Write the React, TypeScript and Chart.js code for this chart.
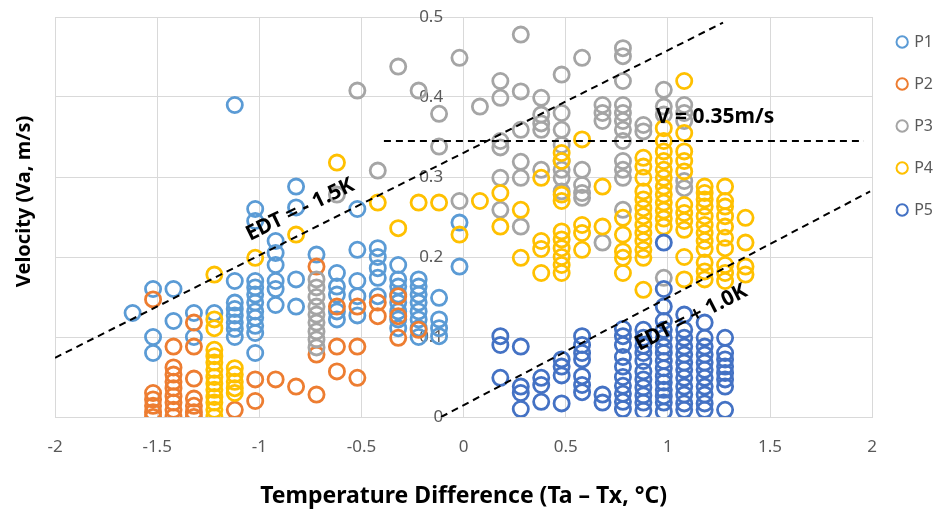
import React, { useEffect, useRef } from "react";
import { Chart, registerables } from "chart.js";

Chart.register(...registerables);

type Col = [number, number[]];

const seriesNames = ["P1", "P2", "P3", "P4", "P5"];
const seriesColors = ["#5B9BD5", "#ED7D31", "#A5A5A5", "#FFC000", "#4472C4"];

// Each entry: [temperature difference, velocities measured at that difference]
const p1Columns: Col[] = [
  [-1.62, [0.13]],
  [-1.52, [0.16, 0.1, 0.08]],
  [-1.42, [0.16, 0.12]],
  [-1.32, [0.13, 0.1]],
  [-1.22, [0.13]],
  [-1.12, [0.39, 0.17, 0.143, 0.135, 0.127, 0.118, 0.11, 0.1]],
  [-1.02, [0.26, 0.245, 0.17, 0.162, 0.153, 0.143, 0.132, 0.124, 0.114, 0.105, 0.08]],
  [-0.92, [0.22, 0.205, 0.19, 0.17, 0.16, 0.14]],
  [-0.82, [0.288, 0.262, 0.172, 0.138]],
  [-0.72, [0.203]],
  [-0.62, [0.18, 0.163, 0.153, 0.132, 0.122]],
  [-0.52, [0.26, 0.209, 0.17, 0.151, 0.127]],
  [-0.42, [0.211, 0.2, 0.186, 0.174, 0.151]],
  [-0.32, [0.19, 0.172, 0.163, 0.153, 0.143, 0.132, 0.122, 0.111]],
  [-0.22, [0.172, 0.163, 0.153, 0.143, 0.132, 0.122, 0.111, 0.1]],
  [-0.12, [0.149, 0.122, 0.111, 0.101]],
  [-0.02, [0.243, 0.188]],
];

const p2Columns: Col[] = [
  [-1.52, [0.147, 0.03, 0.022, 0.014, 0.006, 0.0]],
  [-1.42, [0.088, 0.062, 0.053, 0.044, 0.036, 0.026, 0.018, 0.009, 0.0]],
  [-1.32, [0.118, 0.088, 0.048, 0.023, 0.014, 0.006, 0.0]],
  [-1.12, [0.009]],
  [-1.02, [0.047, 0.02]],
  [-0.92, [0.047]],
  [-0.82, [0.038]],
  [-0.72, [0.188, 0.078, 0.028]],
  [-0.62, [0.138, 0.088, 0.057]],
  [-0.52, [0.138, 0.088, 0.049]],
  [-0.42, [0.143, 0.126]],
  [-0.32, [0.151, 0.126, 0.099]],
  [-0.22, [0.109]],
];

const p3Columns: Col[] = [
  [-0.72, [0.172, 0.162, 0.15, 0.138, 0.128, 0.118, 0.107, 0.097, 0.087]],
  [-0.62, [0.278]],
  [-0.52, [0.408]],
  [-0.42, [0.308]],
  [-0.32, [0.438]],
  [-0.22, [0.408]],
  [-0.12, [0.379, 0.338]],
  [-0.02, [0.449, 0.27]],
  [0.08, [0.388]],
  [0.18, [0.42, 0.399, 0.345, 0.337, 0.299, 0.259]],
  [0.28, [0.478, 0.407, 0.359, 0.319, 0.299, 0.238]],
  [0.38, [0.399, 0.378, 0.367, 0.359, 0.309]],
  [0.48, [0.428, 0.38, 0.359, 0.34, 0.32, 0.309, 0.299, 0.282]],
  [0.58, [0.449, 0.309, 0.29, 0.28, 0.274]],
  [0.68, [0.39, 0.38, 0.37, 0.218]],
  [0.78, [0.461, 0.451, 0.42, 0.39, 0.38, 0.37, 0.359, 0.345, 0.32, 0.309, 0.299, 0.259]],
  [0.88, [0.365, 0.357]],
  [0.98, [0.409, 0.388, 0.378, 0.174]],
  [1.08, [0.39, 0.38, 0.37, 0.295, 0.286]],
];

const p4Columns: Col[] = [
  [-1.22, [0.178, 0.122, 0.111, 0.084, 0.076, 0.068, 0.059, 0.05, 0.042, 0.034, 0.025, 0.018, 0.009, 0.0]],
  [-1.12, [0.061, 0.053, 0.044, 0.036, 0.03]],
  [-1.02, [0.199]],
  [-0.82, [0.228]],
  [-0.62, [0.318]],
  [-0.42, [0.268]],
  [-0.32, [0.236]],
  [-0.22, [0.268]],
  [-0.12, [0.268]],
  [-0.02, [0.228]],
  [0.08, [0.27]],
  [0.18, [0.28, 0.238]],
  [0.28, [0.259, 0.199]],
  [0.38, [0.299, 0.22, 0.21, 0.18]],
  [0.48, [0.33, 0.32, 0.278, 0.27, 0.232, 0.222, 0.211, 0.2, 0.19, 0.18]],
  [0.58, [0.347, 0.24, 0.23, 0.209]],
  [0.68, [0.288, 0.238]],
  [0.78, [0.249, 0.228, 0.207, 0.199, 0.18]],
  [0.88, [0.324, 0.313, 0.299, 0.282, 0.272, 0.261, 0.251, 0.24, 0.23, 0.22, 0.209, 0.199, 0.159]],
  [0.98, [0.361, 0.345, 0.332, 0.32, 0.309, 0.299, 0.288, 0.278, 0.268, 0.258, 0.248, 0.238]],
  [1.08, [0.42, 0.355, 0.332, 0.32, 0.307, 0.265, 0.255, 0.245, 0.234, 0.2, 0.172]],
  [1.18, [0.288, 0.28, 0.272, 0.263, 0.251, 0.24, 0.23, 0.22, 0.21, 0.193, 0.182, 0.172]],
  [1.28, [0.288, 0.27, 0.263, 0.251, 0.238, 0.224, 0.211, 0.19, 0.18, 0.17]],
  [1.38, [0.249, 0.218, 0.188, 0.178]],
];

const p5Columns: Col[] = [
  [0.18, [0.101, 0.09, 0.049]],
  [0.28, [0.088, 0.038, 0.03, 0.01]],
  [0.38, [0.049, 0.04, 0.019]],
  [0.48, [0.072, 0.063, 0.052, 0.017]],
  [0.58, [0.101, 0.09, 0.08, 0.072, 0.051, 0.04, 0.031]],
  [0.68, [0.028, 0.018]],
  [0.78, [0.11, 0.101, 0.09, 0.075, 0.063, 0.05, 0.039, 0.029, 0.019, 0.01]],
  [0.88, [0.109, 0.099, 0.089, 0.08, 0.07, 0.057, 0.047, 0.037, 0.027, 0.018, 0.008]],
  [0.98, [0.218, 0.16, 0.138, 0.12, 0.109, 0.099, 0.088, 0.08, 0.07, 0.061, 0.051, 0.043, 0.034, 0.026, 0.018, 0.007]],
  [1.08, [0.128, 0.109, 0.099, 0.088, 0.078, 0.068, 0.059, 0.049, 0.038, 0.028, 0.017, 0.009]],
  [1.18, [0.118, 0.099, 0.088, 0.078, 0.068, 0.059, 0.049, 0.038, 0.028, 0.017, 0.009]],
  [1.28, [0.099, 0.08, 0.072, 0.063, 0.055, 0.047, 0.038, 0.009]],
];

const seriesColumns = [p1Columns, p2Columns, p3Columns, p4Columns, p5Columns];

// Reference lines (end points in data units)
const edtMinusLine: [number, number][] = [[-2, 0.074], [1.27, 0.493]];
const edtPlusLine: [number, number][] = [[-0.11, 0.0], [1.99, 0.282]];
const velocityLine: [number, number][] = [[-0.39, 0.345], [1.96, 0.345]];

const annotationTexts = ["EDT = - 1.5K", "V = 0.35m/s", "EDT = + 1.0K"];
const annotationX = [-0.8, 1.231, 1.114];
const annotationY = [0.259, 0.375, 0.124];
const annotationAngle = [-26, 0, -27];

const xMin = -2;
const xMax = 2;
const xStep = 0.5;
const yMin = 0;
const yMax = 0.5;
const yStep = 0.1;
const yLabelAnchorX = -0.1; // value-axis labels sit just left of x = 0

const xTitle = "Temperature Difference (Ta – Tx, °C)";
const yTitle = "Velocity (Va, m/s)";
const yTitleLead = "      "; // shifts the rotated title slightly upward, as in the original

const toPoints = (cols: Col[]) =>
  cols.flatMap(([x, vs]) => vs.map((v) => ({ x, y: v })));

const fmt = (v: any) => String(Math.round(Number(v) * 10) / 10);

const annotationPlugin = {
  id: "textAnnotations",
  afterDatasetsDraw(chart: any) {
    const { ctx, scales } = chart;
    const xs = scales.x;
    const ys = scales.y;
    ctx.save();
    ctx.fillStyle = "#000";
    ctx.font = "bold 21px 'Noto Sans', 'DejaVu Sans', sans-serif";
    ctx.textAlign = "center";
    ctx.textBaseline = "middle";
    annotationTexts.forEach((t, i) => {
      const px = xs.getPixelForValue(annotationX[i]);
      const py = ys.getPixelForValue(annotationY[i]);
      ctx.save();
      ctx.translate(px, py);
      ctx.rotate((annotationAngle[i] * Math.PI) / 180);
      ctx.fillText(t, 0, 0);
      ctx.restore();
    });
    ctx.restore();
  },
};

export default function App() {
  const canvasRef = useRef<HTMLCanvasElement | null>(null);

  useEffect(() => {
    if (!canvasRef.current) return;
    const gridColor = "#D9D9D9";
    const scatterSets = seriesNames.map((name, i) => ({
      label: name,
      data: toPoints(seriesColumns[i]),
      backgroundColor: "rgba(0,0,0,0)",
      borderColor: seriesColors[i],
      pointRadius: 7.6,
      pointHoverRadius: 7.6,
      borderWidth: 2.8,
      pointStyle: "circle",
      order: 5 - i + 1,
    }));
    const lineSet = (name: string, pts: [number, number][]) => ({
      label: name,
      data: pts.map(([x, y]) => ({ x, y })),
      showLine: true,
      borderColor: "#000",
      backgroundColor: "#000",
      borderWidth: 2,
      borderDash: [7, 5],
      pointRadius: 0,
      pointHoverRadius: 0,
      order: 0,
    });

    const chart = new Chart(canvasRef.current, {
      type: "scatter",
      data: {
        datasets: [
          ...scatterSets,
          lineSet("edtMinus", edtMinusLine),
          lineSet("edtPlus", edtPlusLine),
          lineSet("velocity", velocityLine),
        ] as any,
      },
      options: {
        responsive: false,
        animation: false,
        devicePixelRatio: 1,
        layout: { padding: { top: 8, right: 0, bottom: 4.5, left: 0 } },
        scales: {
          x: {
            type: "linear",
            min: xMin,
            max: xMax,
            ticks: {
              stepSize: xStep,
              color: "#595959",
              font: { size: 17, family: "'Noto Sans', sans-serif" },
              padding: 19.5,
              callback: fmt,
            },
            grid: { color: gridColor, drawTicks: false },
            border: { color: gridColor },
            title: {
              display: true,
              text: xTitle,
              color: "#000",
              font: { size: 23, weight: "bold", family: "'Noto Sans', sans-serif" },
              padding: { top: 6.5, bottom: 0 },
            },
          },
          y: {
            type: "linear",
            position: "left",
            min: yMin,
            max: yMax,
            ticks: { stepSize: yStep, display: false },
            grid: { color: gridColor, drawTicks: false },
            border: { color: gridColor },
            title: {
              display: true,
              text: yTitleLead + yTitle,
              color: "#000",
              font: { size: 20, weight: "bold", family: "'Noto Sans', sans-serif" },
              padding: { top: 12, bottom: 19 },
            },
          },
          y2: {
            type: "linear",
            axis: "y",
            position: { x: yLabelAnchorX },
            min: yMin,
            max: yMax,
            ticks: {
              stepSize: yStep,
              color: "#595959",
              font: { size: 17, family: "'Noto Sans', sans-serif" },
              padding: 0,
              callback: fmt,
            },
            grid: { display: false, drawTicks: false },
            border: { display: false },
          },
        } as any,
        plugins: {
          title: {
            display: true,
            text: "",
            font: { size: 1, lineHeight: 1 },
            padding: { top: 0, bottom: 8 },
          },
          tooltip: { enabled: false },
          legend: {
            position: "right",
            align: "start",
            reverse: true,
            labels: {
              usePointStyle: true,
              boxWidth: 8,
              boxHeight: 8,
              padding: 26,
              color: "#595959",
              font: { size: 16, family: "'Noto Sans', sans-serif" },
              filter: (item: any) => seriesNames.includes(item.text),
              generateLabels: (chart: any) =>
                (Chart.defaults.plugins.legend.labels as any)
                  .generateLabels(chart)
                  .map((l: any) => ({ ...l, lineWidth: 2 })),
            },
          },
        },
      },
      plugins: [annotationPlugin],
    });
    return () => chart.destroy();
  }, []);

  return (
    <div style={{ position: "absolute", left: 0, top: 0, width: 943, height: 515, background: "#fff" }}>
      <canvas ref={canvasRef} width={943} height={515} style={{ width: 943, height: 515 }} />
    </div>
  );
}
